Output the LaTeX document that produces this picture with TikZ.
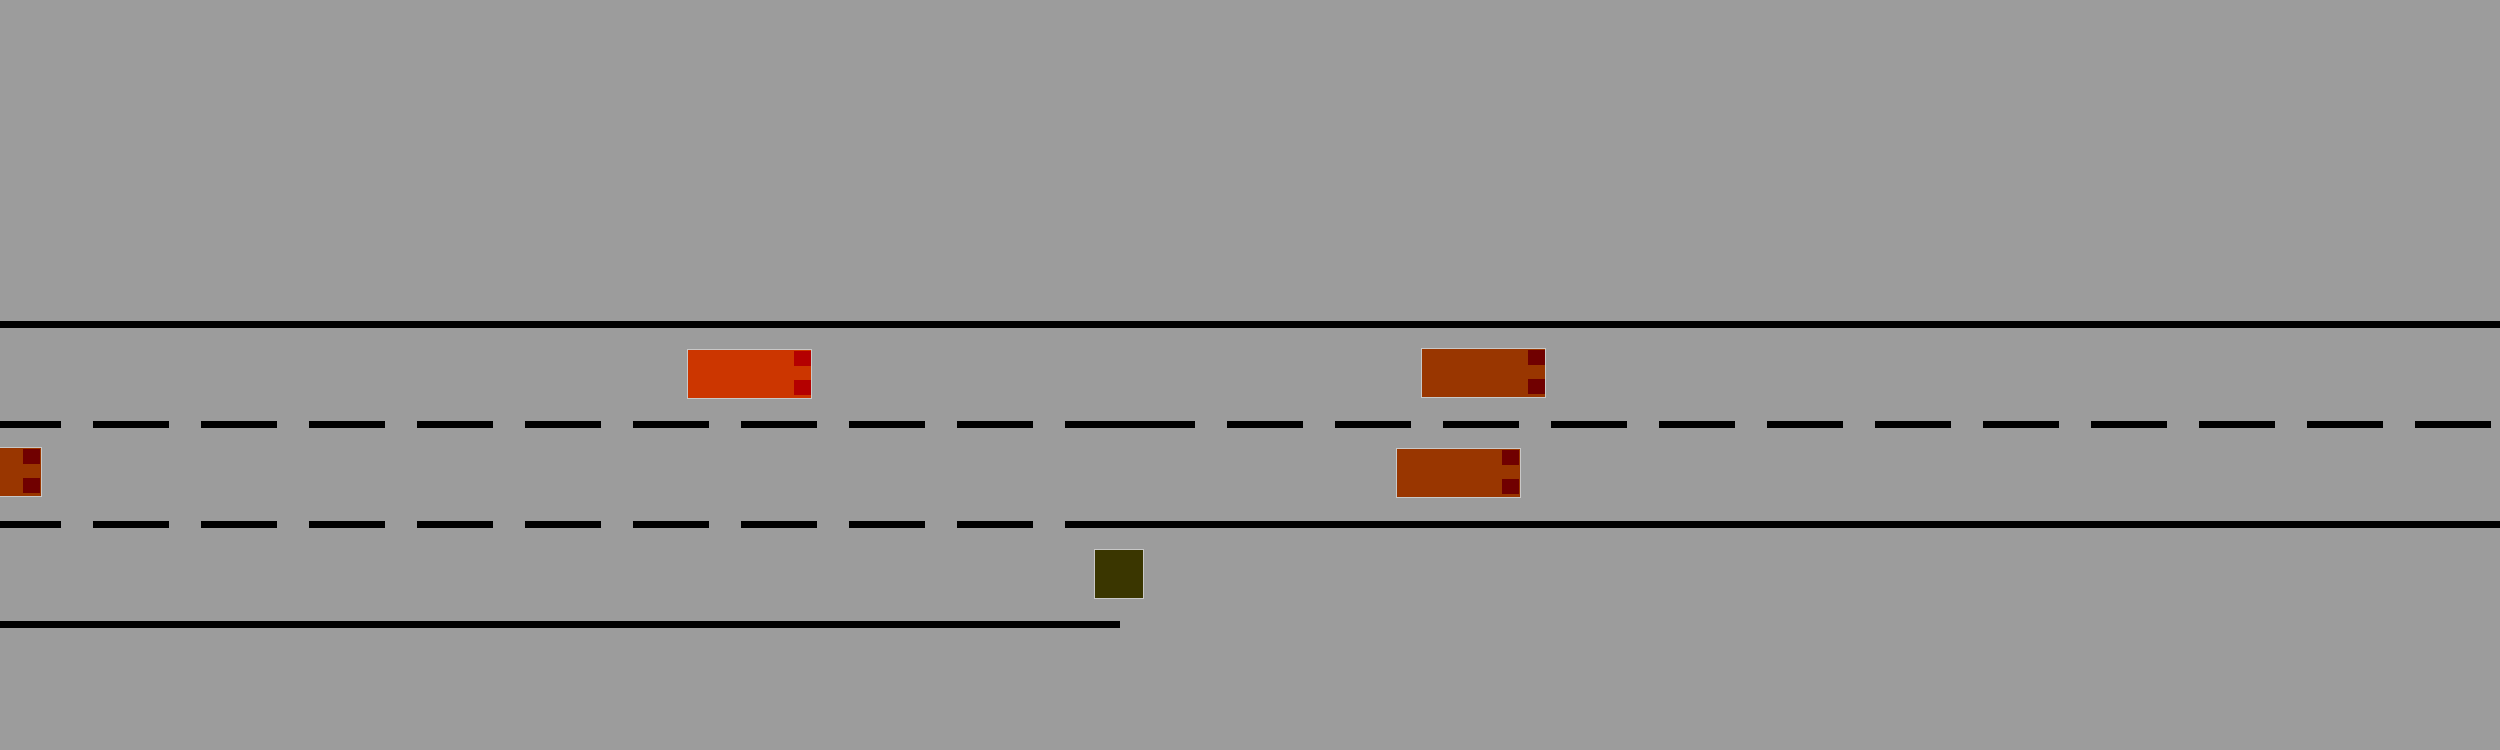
\documentclass[tikz,border=0pt]{standalone}
\definecolor{bggray}{RGB}{156,156,156}
\definecolor{rimgray}{RGB}{200,200,200}
\definecolor{carred}{RGB}{204,54,0}
\definecolor{lampred}{RGB}{180,0,0}
\definecolor{carbrown}{RGB}{153,54,0}
\definecolor{lampbrown}{RGB}{112,0,0}
\definecolor{boxolive}{RGB}{58,54,0}
\tikzset{
  vehicle/.style={rectangle, draw=rimgray, line width=0.1mm, minimum width=12.4mm, minimum height=4.9mm, inner sep=0pt, outer sep=0pt},
  lamp/.style={rectangle, inner sep=0pt, outer sep=0pt, minimum width=1.7mm, minimum height=1.5mm},
  roadline/.style={line width=0.7mm, black},
  laneline/.style={roadline, dash pattern=on 7.6mm off 3.2mm},
}
\newcommand{\lamps}[2]{%
  \node[lamp, fill=#2] (#1-l1) at ([xshift=-0.95mm,yshift=1.55mm]#1.east) {};
  \node[lamp, fill=#2] (#1-l2) at ([xshift=-0.95mm,yshift=-1.35mm]#1.east) {};
}
\begin{document}
\begin{tikzpicture}[x=0.1mm,y=-0.1mm]
\useasboundingbox (0,0) rectangle (2500,750);
\clip (0,0) rectangle (2500,750);
\fill[bggray] (0,0) rectangle (2500,750);
% road markings
\draw[roadline] (0,324.5) -- (2500,324.5);
\draw[laneline] (-15,424.5) -- (1120,424.5);
\draw[laneline] (1119,424.5) -- (2530,424.5);
\draw[laneline] (-15,524.5) -- (1120,524.5);
\draw[roadline] (1119,524.5) -- (2500,524.5);
\draw[roadline] (0,624.5) -- (1120,624.5);
% vehicles
\node[vehicle, fill=carred] (redcar) at (749.5,374) {};
\lamps{redcar}{lampred}
\node[vehicle, fill=carbrown] (browncarA) at (1483.5,373) {};
\lamps{browncarA}{lampbrown}
\node[vehicle, fill=carbrown] (browncarB) at (1458.3,473) {};
\lamps{browncarB}{lampbrown}
\node[vehicle, fill=carbrown] (browncarC) at (-20.5,472) {};
\lamps{browncarC}{lampbrown}
% box
\node[rectangle, draw=rimgray, line width=0.1mm, fill=boxolive, minimum width=4.9mm, minimum height=4.9mm, inner sep=0pt] (olivebox) at (1119,574) {};
\end{tikzpicture}
\end{document}
